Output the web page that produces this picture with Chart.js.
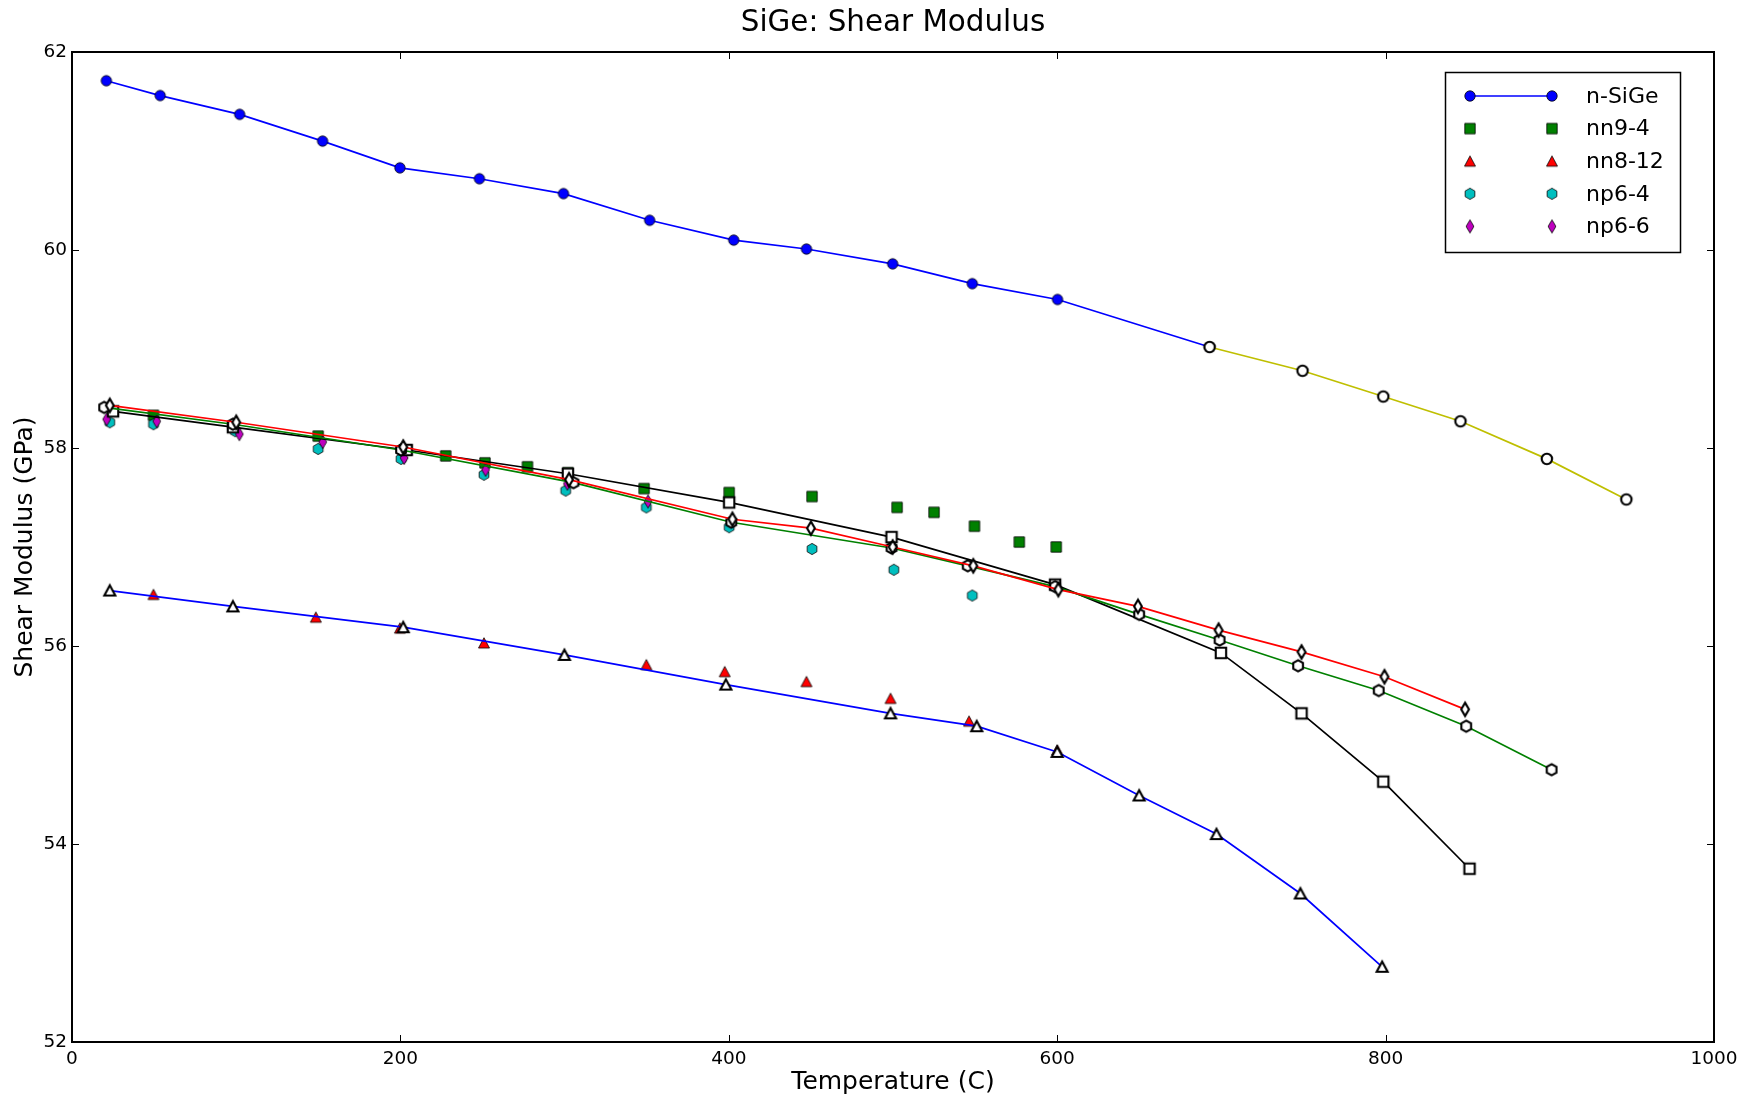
<!DOCTYPE html>
<html>
<head>
<meta charset="utf-8">
<script src="https://cdn.jsdelivr.net/npm/chart.js@4/dist/chart.umd.min.js"></script>
<style>
  html, body { margin: 0; padding: 0; background: #ffffff; }
  canvas { display: block; }
</style>
</head>
<body>
<canvas id="chart" width="1756" height="1096"></canvas>
<script>
// Temperature (C) and shear modulus (GPa) for each sample
const nSiGeT = [20.9, 53.7, 102.1, 152.6, 199.7, 248.1, 299.3, 351.8, 403.0, 447.3, 499.8, 548.3, 600.2, 692.8];
const nSiGeG = [61.71, 61.56, 61.37, 61.10, 60.83, 60.72, 60.57, 60.30, 60.10, 60.01, 59.86, 59.66, 59.50, 59.02];

const nSiGeHotT = [692.8, 749.4, 798.6, 845.6, 898.2, 946.6];
const nSiGeHotG = [59.02, 58.78, 58.52, 58.27, 57.89, 57.48];

const nn94T = [49.6, 149.9, 203.8, 227.6, 251.5, 277.4, 302.0, 348.4, 400.2, 450.7, 502.5, 525.0, 549.6, 576.9, 599.4];
const nn94G = [58.33, 58.12, 57.98, 57.92, 57.85, 57.81, 57.75, 57.59, 57.55, 57.51, 57.40, 57.35, 57.21, 57.05, 57.00];

const nn812T = [49.6, 148.5, 199.7, 250.9, 349.8, 397.5, 447.3, 498.5, 546.3, 600.0];
const nn812G = [56.52, 56.29, 56.18, 56.03, 55.81, 55.74, 55.64, 55.47, 55.24, 54.95];

const np64T = [23.0, 49.6, 99.4, 149.9, 200.4, 250.9, 300.7, 349.8, 400.2, 450.7, 500.5, 548.3];
const np64G = [58.26, 58.24, 58.17, 57.99, 57.89, 57.73, 57.57, 57.40, 57.20, 56.98, 56.77, 56.51];

const np66T = [21.1, 51.6, 101.9, 152.7, 202.3, 251.9, 301.7, 350.8];
const np66G = [58.29, 58.27, 58.14, 58.06, 57.90, 57.78, 57.64, 57.46];

// open-marker runs
const squareRunT = [25.0, 98.0, 203.8, 302.0, 400.2, 499.1, 598.7, 699.7, 748.8, 798.6, 851.1];
const squareRunG = [58.37, 58.21, 57.98, 57.74, 57.45, 57.10, 56.62, 55.93, 55.32, 54.63, 53.75];

const triangleRunT = [23.0, 98.0, 201.7, 299.9, 398.2, 498.5, 551.0, 600.0, 649.9, 697.0, 748.1, 797.9];
const triangleRunG = [56.56, 56.40, 56.19, 55.91, 55.61, 55.32, 55.19, 54.93, 54.49, 54.10, 53.50, 52.76];

const hexagonRunT = [19.6, 98.0, 200.4, 305.4, 401.5, 499.1, 545.5, 598.7, 649.9, 698.9, 746.7, 795.8, 849.1, 901.1];
const hexagonRunG = [58.41, 58.24, 57.98, 57.65, 57.25, 56.99, 56.81, 56.60, 56.32, 56.06, 55.80, 55.55, 55.19, 54.75];

const diamondRunT = [23.0, 100.0, 201.7, 302.7, 402.2, 450.0, 499.8, 548.9, 600.7, 649.2, 698.3, 748.8, 799.3, 848.4];
const diamondRunG = [58.43, 58.26, 58.01, 57.68, 57.28, 57.19, 57.00, 56.81, 56.57, 56.40, 56.16, 55.94, 55.69, 55.36];

const xTickValues = [0, 200, 400, 600, 800, 1000];
const yTickValues = [52, 54, 56, 58, 60, 62];

const chartTitle = 'SiGe: Shear Modulus';

const FONT = "'DejaVu Sans', 'Liberation Sans', sans-serif";

// marker sprites
function makeMarker(shape, fill, stroke, lw) {
  const size = 22;
  const cv = document.createElement('canvas');
  cv.width = size; cv.height = size;
  const g = cv.getContext('2d');
  const c = size / 2;
  g.beginPath();
  if (shape === 'circle') {
    g.arc(c, c, 5.2, 0, Math.PI * 2);
  } else if (shape === 'square') {
    g.rect(c - 5.2, c - 5.2, 10.4, 10.4);
  } else if (shape === 'triangle') {
    g.moveTo(c, c - 5.3);
    g.lineTo(c + 5.5, c + 5.0);
    g.lineTo(c - 5.5, c + 5.0);
    g.closePath();
  } else if (shape === 'hexagon') {
    for (let k = 0; k < 6; k++) {
      const a = -Math.PI / 2 + k * Math.PI / 3;
      const px = c + 5.6 * Math.cos(a), py = c + 5.6 * Math.sin(a);
      if (k === 0) g.moveTo(px, py); else g.lineTo(px, py);
    }
    g.closePath();
  } else if (shape === 'diamond') {
    g.moveTo(c, c - 6.6);
    g.lineTo(c + 3.9, c);
    g.lineTo(c, c + 6.6);
    g.lineTo(c - 3.9, c);
    g.closePath();
  }
  g.fillStyle = fill;
  g.fill();
  g.lineWidth = lw;
  g.lineJoin = 'miter';
  g.strokeStyle = stroke;
  g.stroke();
  return cv;
}

const mk = {
  blueCircle: makeMarker('circle', '#0000ff', '#000000', 0.8),
  greenSquare: makeMarker('square', '#008000', '#000000', 0.8),
  redTriangle: makeMarker('triangle', '#ff0000', '#000000', 0.8),
  cyanHexagon: makeMarker('hexagon', '#00bfbf', '#000000', 0.8),
  magentaDiamond: makeMarker('diamond', '#bf00bf', '#000000', 0.8),
  openCircle: makeMarker('circle', '#ffffff', '#000000', 2.1),
  openSquare: makeMarker('square', '#ffffff', '#000000', 2.1),
  openTriangle: makeMarker('triangle', '#ffffff', '#000000', 2.1),
  openHexagon: makeMarker('hexagon', '#ffffff', '#000000', 2.1),
  openDiamond: makeMarker('diamond', '#ffffff', '#000000', 2.1)
};

function pts(xs, ys) { return xs.map((x, i) => ({ x: x, y: ys[i] })); }

function series(label, xs, ys, sprite, lineColor, order, inLegend) {
  return {
    label: label,
    data: pts(xs, ys),
    showLine: lineColor !== null,
    borderColor: lineColor || 'rgba(0,0,0,0)',
    borderWidth: 1.7,
    backgroundColor: 'rgba(0,0,0,0)',
    pointStyle: sprite,
    pointRadius: 6,
    pointHoverRadius: 6,
    tension: 0,
    order: order,
    inLegend: inLegend
  };
}

const datasets = [
  series('n-SiGe', nSiGeT, nSiGeG, mk.blueCircle, '#0000ff', 20, true),
  series('n-SiGe high T', nSiGeHotT, nSiGeHotG, mk.openCircle, '#bfbf00', 19, false),
  series('nn9-4', nn94T, nn94G, mk.greenSquare, null, 18, true),
  series('nn8-12', nn812T, nn812G, mk.redTriangle, null, 17, true),
  series('np6-4', np64T, np64G, mk.cyanHexagon, null, 16, true),
  series('np6-6', np66T, np66G, mk.magentaDiamond, null, 15, true),
  series('squares', squareRunT, squareRunG, mk.openSquare, '#000000', 4, false),
  series('triangles', triangleRunT, triangleRunG, mk.openTriangle, '#0000ff', 3, false),
  series('hexagons', hexagonRunT, hexagonRunG, mk.openHexagon, '#008000', 2, false),
  series('diamonds', diamondRunT, diamondRunG, mk.openDiamond, '#ff0000', 1, false)
];

// axes frame with inward ticks on all four sides, plus the title centred over the plot
const framePlugin = {
  id: 'frame',
  afterDraw(chart) {
    const ctx = chart.ctx;
    const a = chart.chartArea;
    const xs = chart.scales.x, ys = chart.scales.y;
    const tl = 7;
    ctx.save();
    ctx.strokeStyle = '#000000';
    ctx.lineWidth = 1;
    ctx.beginPath();
    xTickValues.forEach(v => {
      const px = Math.round(xs.getPixelForValue(v)) + 0.5;
      ctx.moveTo(px, a.bottom); ctx.lineTo(px, a.bottom - tl);
      ctx.moveTo(px, a.top); ctx.lineTo(px, a.top + tl);
    });
    yTickValues.forEach(v => {
      const py = Math.round(ys.getPixelForValue(v)) + 0.5;
      ctx.moveTo(a.left, py); ctx.lineTo(a.left + tl, py);
      ctx.moveTo(a.right, py); ctx.lineTo(a.right - tl, py);
    });
    ctx.stroke();
    ctx.lineWidth = 2;
    ctx.strokeRect(a.left, a.top, a.right - a.left, a.bottom - a.top);

    ctx.fillStyle = '#000000';
    ctx.font = '29.4px ' + FONT;
    ctx.textAlign = 'center';
    ctx.textBaseline = 'middle';
    ctx.fillText(chartTitle, (a.left + a.right) / 2, 23);
    ctx.restore();
  }
};

// legend box: two markers per entry, joined by the line when the series has one
const legendPlugin = {
  id: 'sampleLegend',
  afterDraw(chart) {
    const ctx = chart.ctx;
    const items = chart.data.datasets.filter(d => d.inLegend);
    const box = { x: 1445.5, y: 72.5, w: 235, h: 180 };
    const rowTop = 96, rowStep = 32.6;
    const m1 = 1470, m2 = 1552, textX = 1586;
    ctx.save();
    ctx.fillStyle = '#ffffff';
    ctx.fillRect(box.x, box.y, box.w, box.h);
    ctx.strokeStyle = '#000000';
    ctx.lineWidth = 1.5;
    ctx.strokeRect(box.x, box.y, box.w, box.h);
    ctx.font = '22px ' + FONT;
    ctx.textBaseline = 'middle';
    ctx.textAlign = 'left';
    items.forEach((d, i) => {
      const cy = rowTop + i * rowStep;
      if (d.showLine) {
        ctx.strokeStyle = d.borderColor;
        ctx.lineWidth = d.borderWidth;
        ctx.beginPath();
        ctx.moveTo(m1, cy); ctx.lineTo(m2, cy);
        ctx.stroke();
      }
      const s = d.pointStyle;
      ctx.drawImage(s, m1 - s.width / 2, cy - s.height / 2);
      ctx.drawImage(s, m2 - s.width / 2, cy - s.height / 2);
      ctx.fillStyle = '#000000';
      ctx.fillText(d.label, textX, cy + 1);
    });
    ctx.restore();
  }
};

new Chart(document.getElementById('chart'), {
  type: 'scatter',
  data: { datasets: datasets },
  options: {
    responsive: false,
    animation: false,
    devicePixelRatio: 1,
    events: [],
    layout: { padding: { left: 0, right: 42, top: 52, bottom: 0 } },
    plugins: {
      legend: { display: false },
      tooltip: { enabled: false },
      title: { display: false }
    },
    scales: {
      x: {
        type: 'linear',
        min: 0, max: 1000,
        afterFit(s) { s.height = 54; },
        afterBuildTicks(s) { s.ticks = xTickValues.map(v => ({ value: v })); },
        grid: { display: false, drawTicks: false },
        border: { display: false },
        ticks: {
          color: '#000000', padding: 6, font: { family: FONT, size: 18.5 },
          callback: v => String(v)
        },
        title: {
          display: true,
          text: 'Temperature (C)',
          color: '#000000',
          font: { family: FONT, size: 25, lineHeight: 1 },
          padding: { top: 0, bottom: 1.5 }
        }
      },
      y: {
        type: 'linear',
        min: 52, max: 62,
        afterFit(s) { s.width = 72; },
        afterBuildTicks(s) { s.ticks = yTickValues.map(v => ({ value: v })); },
        grid: { display: false, drawTicks: false },
        border: { display: false },
        ticks: {
          color: '#000000', padding: 5, font: { family: FONT, size: 18.5 },
          callback: v => String(v)
        },
        title: {
          display: true,
          text: 'Shear Modulus (GPa)',
          color: '#000000',
          font: { family: FONT, size: 25, lineHeight: 1 },
          padding: { top: 12.5, bottom: 0 }
        }
      }
    }
  },
  plugins: [framePlugin, legendPlugin]
});
</script>
</body>
</html>
